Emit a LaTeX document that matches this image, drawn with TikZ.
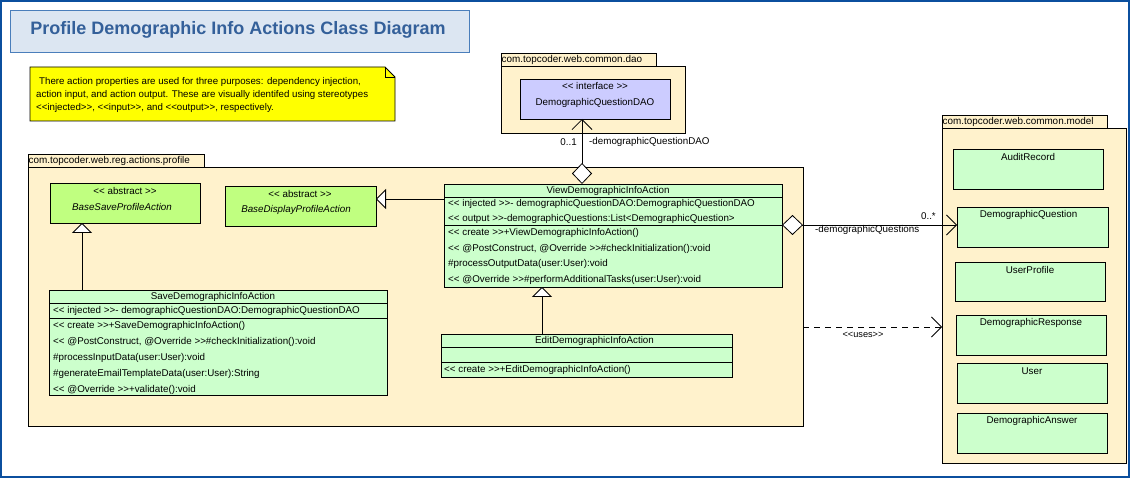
\documentclass[tikz,border=0pt]{standalone}
\usepackage{fontspec}
\setmainfont{Liberation Sans}
\usetikzlibrary{arrows.meta,calc}
\definecolor{frameblue}{HTML}{0B4F9E}
\definecolor{titlefill}{HTML}{DCE6F2}
\definecolor{titleline}{HTML}{4A7EBB}
\definecolor{titletext}{HTML}{34609A}
\definecolor{pkgfill}{HTML}{FFF2CC}
\definecolor{absfill}{HTML}{C0FF80}
\definecolor{clsfill}{HTML}{CCFFCC}
\definecolor{iffill}{HTML}{CCCCFF}
\definecolor{notefill}{HTML}{FFFF00}
\tikzset{
 box/.style={draw=black, line width=0.8pt, inner sep=0pt, outer sep=0pt, anchor=north west},
 pkg/.style={box, fill=pkgfill},
 cls/.style={box, fill=clsfill},
 abscls/.style={box, fill=absfill},
 ifc/.style={box, fill=iffill},
 txt/.style={inner sep=0pt, font=\fontsize{9.8}{11}\selectfont},
 row/.style={txt, anchor=west},
 pkglabel/.style={inner sep=0pt, anchor=west, font=\fontsize{9.9}{11}\selectfont},
 notetxt/.style={inner sep=0pt, anchor=west, font=\fontsize{9.7}{10}\selectfont},
 small/.style={inner sep=0pt, font=\fontsize{9.2}{10}\selectfont},
 divider/.style={line width=0.8pt},
 gen/.style={line width=0.8pt, -{Triangle[open, fill=white, length=10pt, width=20pt]}},
 assoc/.style={line width=0.8pt, {Diamond[open, fill=white, length=21pt, width=20pt]}-{Straight Barb[length=10pt, width=20pt]}},
 dep/.style={line width=0.8pt, dash pattern=on 6pt off 5pt, -{Straight Barb[length=10pt, width=20pt]}}
}
\begin{document}
\begin{tikzpicture}[x=1pt,y=-1pt]
\fill[white] (0,0) rectangle (1130,478);
\useasboundingbox (0,0) rectangle (1130,478);
\draw[frameblue, line width=2pt] (1,1) rectangle (1129,477);

% title
\node[draw=titleline, fill=titlefill, line width=1pt, minimum width=459pt, minimum height=42pt, anchor=north west, inner sep=0pt] (titlebox) at (10,10) {};
\node[inner sep=0pt, font=\bfseries\fontsize{18}{20}\selectfont, text=titletext] (title) at (238,30) {Profile Demographic Info Actions Class Diagram};

% note
\draw[fill=notefill, line width=0.8pt] (30,67) -- (385,67) -- (395,77) -- (395,121) -- (30,121) -- cycle;
\draw[line width=0.8pt] (385,67) -- (385,77) -- (395,77);
\node[notetxt] (note1) at (36,82) {\hspace{3pt}There action properties are used for three purposes: dependency injection,};
\node[notetxt] (note2) at (36,95) {action input, and action output. These are visually identifed using stereotypes};
\node[notetxt] (note3) at (36,108) {<{}<injected>{}>, <{}<input>{}>, and <{}<output>{}>, respectively.};

% packages
\node[pkg, minimum width=176pt, minimum height=13pt] (pkgproftab) at (28,154) {};
\node[pkg, minimum width=775pt, minimum height=259pt] (pkgprof) at (28,167) {};
\node[pkglabel] (pkgproflbl) at (28.5,160.5) {com.topcoder.web.reg.actions.profile};

\node[pkg, minimum width=155pt, minimum height=13pt] (pkgdaotab) at (501,53) {};
\node[pkg, minimum width=184pt, minimum height=67pt] (pkgdao) at (501,66) {};
\node[pkglabel] (pkgdaolbl) at (501.5,59.5) {com.topcoder.web.common.dao};

\node[pkg, minimum width=165pt, minimum height=13pt] (pkgmodeltab) at (942,115) {};
\node[pkg, minimum width=184pt, minimum height=335pt] (pkgmodel) at (942,128) {};
\node[pkglabel] (pkgmodellbl) at (942.5,121.5) {com.topcoder.web.common.model};

% interface
\node[ifc, minimum width=150pt, minimum height=40pt] (daoif) at (520,79) {};
\node[txt] (daoifst) at (595,86) {<{}< interface >{}>};
\node[txt] (daoifname) at (595,103) {DemographicQuestionDAO};

% abstract classes
\node[abscls, minimum width=150pt, minimum height=40pt] (basesave) at (50,183) {};
\node[txt] (basesavest) at (125,191) {<{}< abstract >{}>};
\node[txt, font=\itshape\fontsize{9.8}{11}\selectfont] (basesavename) at (122,207) {BaseSaveProfileAction};

\node[abscls, minimum width=151pt, minimum height=40pt] (basedisp) at (225,186) {};
\node[txt] (basedispst) at (300,194) {<{}< abstract >{}>};
\node[txt, font=\itshape\fontsize{9.8}{11}\selectfont] (basedispname) at (296,210) {BaseDisplayProfileAction};

% View class
\node[cls, minimum width=338pt, minimum height=103pt] (view) at (444,184) {};
\draw[divider] ($(view.north west)+(0,13)$) -- ($(view.north east)+(0,13)$);
\draw[divider] ($(view.north west)+(0,41)$) -- ($(view.north east)+(0,41)$);
\node[txt] (viewname) at ($(view.north)+(-5,6.5)$) {ViewDemographicInfoAction};
\node[row] (viewa1) at (448,204) {<{}< injected >{}>- demographicQuestionDAO:DemographicQuestionDAO};
\node[row] (viewa2) at (448,219) {<{}< output >{}>-demographicQuestions:List<DemographicQuestion>};
\node[row] (viewo1) at (448,233) {<{}< create >{}>+ViewDemographicInfoAction()};
\node[row] (viewo2) at (448,249) {<{}< @PostConstruct, @Override >{}>\#checkInitialization():void};
\node[row] (viewo3) at (448,264) {\#processOutputData(user:User):void};
\node[row] (viewo4) at (448,280) {<{}< @Override >{}>\#performAdditionalTasks(user:User):void};

% Save class
\node[cls, minimum width=338pt, minimum height=105pt] (save) at (49,290) {};
\draw[divider] ($(save.north west)+(0,13)$) -- ($(save.north east)+(0,13)$);
\draw[divider] ($(save.north west)+(0,28)$) -- ($(save.north east)+(0,28)$);
\node[txt] (savename) at ($(save.north)+(-5,6.5)$) {SaveDemographicInfoAction};
\node[row] (savea1) at (53,310.5) {<{}< injected >{}>- demographicQuestionDAO:DemographicQuestionDAO};
\node[row] (saveo1) at (53,326) {<{}< create >{}>+SaveDemographicInfoAction()};
\node[row] (saveo2) at (53,342) {<{}< @PostConstruct, @Override >{}>\#checkInitialization():void};
\node[row] (saveo3) at (53,358) {\#processInputData(user:User):void};
\node[row] (saveo4) at (53,374) {\#generateEmailTemplateData(user:User):String};
\node[row] (saveo5) at (53,390) {<{}< @Override >{}>+validate():void};

% Edit class
\node[cls, minimum width=291pt, minimum height=43pt] (edit) at (441,334) {};
\draw[divider] ($(edit.north west)+(0,13)$) -- ($(edit.north east)+(0,13)$);
\draw[divider] ($(edit.north west)+(0,28)$) -- ($(edit.north east)+(0,28)$);
\node[txt] (editname) at ($(edit.north)+(8,6.5)$) {EditDemographicInfoAction};
\node[row] (edito1) at (444,369.5) {<{}< create >{}>+EditDemographicInfoAction()};

% model classes
\node[cls, minimum width=150pt, minimum height=40pt] (audit) at (953,149) {};
\node[txt] (auditname) at ($(audit.north)+(0,8)$) {AuditRecord};
\node[cls, minimum width=151pt, minimum height=40pt] (dq) at (957,207) {};
\node[txt] (dqname) at ($(dq.north)+(-4,8)$) {DemographicQuestion};
\node[cls, minimum width=150pt, minimum height=39pt] (uprof) at (955,262) {};
\node[txt] (uprofname) at ($(uprof.north)+(0,8)$) {UserProfile};
\node[cls, minimum width=150pt, minimum height=40pt] (dresp) at (956,315) {};
\node[txt] (drespname) at ($(dresp.north)+(0,8)$) {DemographicResponse};
\node[cls, minimum width=150pt, minimum height=40pt] (user) at (957,363) {};
\node[txt] (username) at ($(user.north)+(0,8)$) {User};
\node[cls, minimum width=150pt, minimum height=40pt] (dans) at (957,413) {};
\node[txt] (dansname) at ($(dans.north)+(0,8)$) {DemographicAnswer};

% connectors
\coordinate (viewgen) at ($(view.north west)+(0,15)$);
\draw[gen] (viewgen) -- (viewgen -| basedisp.east);
\coordinate (savegen) at ($(save.north west)+(33,0)$);
\draw[gen] (savegen) -- (savegen |- basesave.south);
\coordinate (editgen) at ($(edit.north west)+(101,0)$);
\draw[gen] (editgen) -- (editgen |- view.south);
\coordinate (viewdao) at ($(view.north west)+(138,0)$);
\draw[assoc] (viewdao) -- (viewdao |- daoif.south);
\node[txt, anchor=east] (mdao) at (577,142) {0..1};
\node[txt, anchor=west] (rdao) at (589,142) {-demographicQuestionDAO};
\coordinate (viewdq) at ($(view.north east)+(0,41)$);
\draw[assoc] (viewdq) -- (viewdq -| dq.west);
\node[txt, anchor=east] (mdq) at (936,216) {0..*};
\node[txt, anchor=west] (rdq) at (815,230) {-demographicQuestions};
\coordinate (usesfrom) at ($(pkgprof.north east)+(0,160)$);
\draw[dep] (usesfrom) -- (usesfrom -| pkgmodel.west);
\node[small] (useslbl) at (863,335) {<{}<uses>{}>};
\end{tikzpicture}
\end{document}
